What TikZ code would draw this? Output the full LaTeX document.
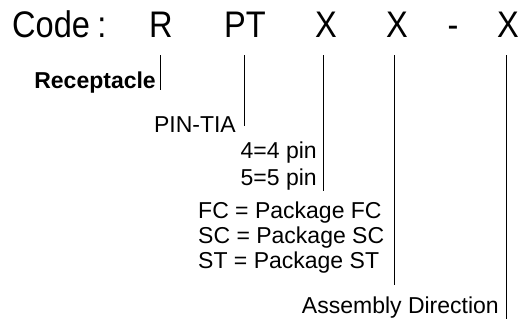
\documentclass[tikz,border=0pt]{standalone}
\usepackage{fontspec}
\setmainfont{Liberation Sans}
\newcommand\condensed[1]{\scalebox{0.88}[1]{#1}}
\begin{document}
\begin{tikzpicture}[x=1pt,y=-1pt,
  titletext/.style={font=\fontsize{37}{40}\selectfont, inner sep=0pt, anchor=base},
  lbl/.style={font=\fontsize{23}{26}\selectfont, inner sep=0pt, anchor=base east},
  lblw/.style={font=\fontsize{23}{26}\selectfont, inner sep=0pt, anchor=base west},
  tick/.style={line width=0.8pt, black}]
\useasboundingbox (0,0) rectangle (522,325);
% title row
\node[titletext, anchor=base west] (code) at (12,37) {\condensed{Code}};
\node[titletext] (colon) at (102,37) {\condensed{:}};
\node[titletext] (cR) at (161,37) {\condensed{R}};
\node[titletext] (cPT) at (245,37) {\condensed{PT}};
\node[titletext] (cX1) at (326,37) {\condensed{X}};
\node[titletext] (cX2) at (397,37) {\condensed{X}};
\node[titletext] (cdash) at (453,37) {\condensed{-}};
\node[titletext] (cX3) at (508,37) {\condensed{X}};
% labels
\node[lbl, font=\fontsize{23}{26}\selectfont\bfseries] (rec) at (156,88) {Receptacle};
\node[lbl] (pin) at (236,132) {PIN-TIA};
\node[lbl] (p4) at (317,158) {4=4 pin};
\node[lbl] (p5) at (317,185) {5=5 pin};
\node[lblw] (fc) at (198,218) {FC = Package FC};
\node[lblw] (sc) at (198,243) {SC = Package SC};
\node[lblw] (st) at (198,268) {ST = Package ST};
\node[lbl] (ad) at (499,313) {Assembly Direction};
% ticks
\coordinate (t1) at (160,55); \coordinate (b1) at (160,90);
\coordinate (t2) at (244,55); \coordinate (b2) at (244,126);
\coordinate (t3) at (323,55); \coordinate (b3) at (323,191);
\coordinate (t4) at (394,55); \coordinate (b4) at (394,285);
\coordinate (t5) at (506,55); \coordinate (b5) at (506,319);
\draw[tick] (t1) -- (b1);
\draw[tick] (t2) -- (b2);
\draw[tick] (t3) -- (b3);
\draw[tick] (t4) -- (b4);
\draw[tick] (t5) -- (b5);
\end{tikzpicture}
\end{document}
